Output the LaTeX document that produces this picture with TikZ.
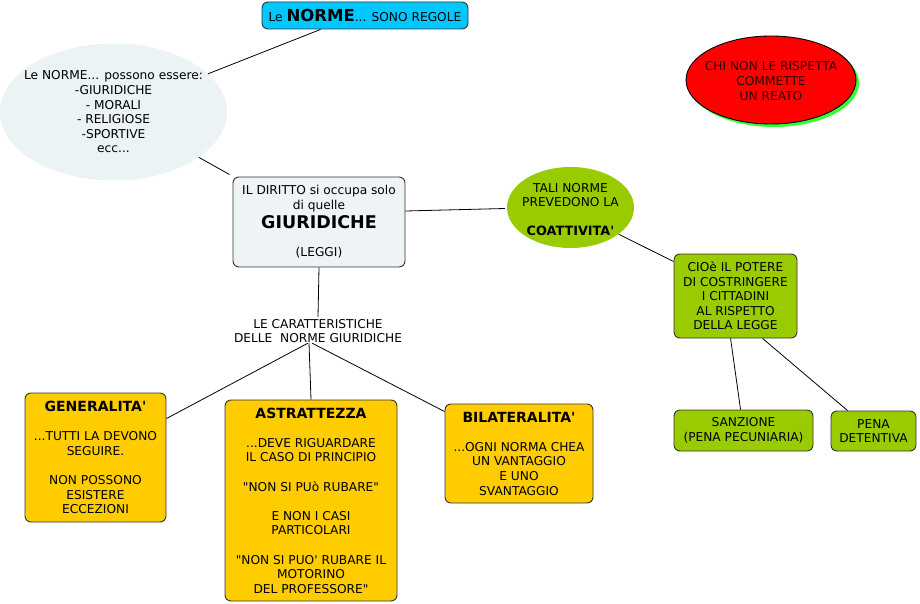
\documentclass[tikz,border=0pt]{standalone}
\usepackage{fontspec}
\newfontfamily\vfont{DejaVu Sans}
\usetikzlibrary{shapes.geometric,shadows}
\definecolor{cyanbox}{HTML}{00C8FF}
\definecolor{ellgrey}{HTML}{EBF3F5}
\definecolor{dirfill}{HTML}{EEF3F6}
\definecolor{lgreen}{HTML}{99CC00}
\definecolor{orng}{HTML}{FFCC00}
\definecolor{shgreen}{HTML}{33FF33}
\definecolor{dred}{HTML}{300000}
\tikzset{
  base/.style={font=\vfont\fontsize{12.2}{14.6}\selectfont, align=center, inner sep=0pt},
  rbox/.style={base, draw=black!80, line width=0.9pt, rounded corners=6pt},
  ellshape/.style={ellipse, inner sep=0pt},
  conn/.style={draw=black, line width=0.8pt},
}
\newcommand\ttl[1]{{\fontsize{14}{14.6}\selectfont\bfseries #1}}
\begin{document}
\begin{tikzpicture}[x=1pt,y=-1pt]
\useasboundingbox (0,0) rectangle (920,604);
% nodes
\node[rbox, fill=cyanbox, minimum width=206pt, minimum height=27pt] (top) at (365,15.5)
  {Le {\fontsize{16.5}{14}\selectfont\bfseries NORME}... SONO REGOLE};
\node[ellshape, fill=ellgrey, minimum width=227pt, minimum height=137pt] (ell) at (113.5,112) {};
\node[base] (ellt) at (ell.center)
  {Le NORME... possono essere:\\-GIURIDICHE\\- MORALI\\- RELIGIOSE\\-SPORTIVE\\ecc...};
\node[rbox, fill=dirfill, minimum width=172pt, minimum height=90pt] (dir) at (319,222)
  {IL DIRITTO si occupa solo\\di quelle\\[2pt]{\fontsize{17.5}{15}\selectfont\bfseries GIURIDICHE}\\[14pt](LEGGI)};
\node[base] (car) at (318,331) {LE CARATTERISTICHE\\DELLE\ \ NORME GIURIDICHE};
\node[ellshape, fill=lgreen, minimum width=127pt, minimum height=81pt] (tali) at (570.5,207.5) {};
\node[base] (talit) at (570.5,209.5)
  {TALI NORME\\PREVEDONO LA\\[14.6pt]{\fontsize{12.8}{14.6}\selectfont\bfseries COATTIVITA'}};
\node[rbox, fill=lgreen, minimum width=123pt, minimum height=84pt] (cio) at (735.5,296)
  {CIOè IL POTERE\\DI COSTRINGERE\\I CITTADINI\\AL RISPETTO\\DELLA LEGGE};
\node[rbox, fill=lgreen, minimum width=139pt, minimum height=41pt] (san) at (743.5,430.5)
  {SANZIONE\\(PENA PECUNIARIA)};
\node[rbox, fill=lgreen, minimum width=85pt, minimum height=40pt] (pena) at (873.5,431)
  {PENA\\DETENTIVA};
\node[ellshape, fill=red, draw=black, line width=0.9pt,
  drop shadow={shadow xshift=3pt, shadow yshift=-3pt, fill=shgreen, opacity=1},
  minimum width=170pt, minimum height=88pt] (red) at (771,80) {};
\node[base, text=dred] (redt) at (771,81)
  {CHI NON LE RISPETTA\\COMMETTE\\UN REATO};
\node[rbox, fill=orng, minimum width=141pt, minimum height=129pt] (gen) at (95.5,457.5)
  {\ttl{GENERALITA'}\\[14.6pt]...TUTTI LA DEVONO\\SEGUIRE.\\[14.6pt]NON POSSONO\\ESISTERE\\ECCEZIONI};
\node[rbox, fill=orng, minimum width=172pt, minimum height=201pt] (ast) at (311,500.5)
  {\ttl{ASTRATTEZZA}\\[14.6pt]...DEVE RIGUARDARE\\IL CASO DI PRINCIPIO\\[14.6pt]"NON SI PUò RUBARE"\\[14.6pt]E NON I CASI\\PARTICOLARI\\[14.6pt]"NON SI PUO' RUBARE IL\\MOTORINO\\DEL PROFESSORE"};
\node[rbox, fill=orng, minimum width=148pt, minimum height=99pt] (bil) at (519,453.5)
  {\ttl{BILATERALITA'}\\[14.6pt]...OGNI NORMA CHEA\\UN VANTAGGIO\\E UNO\\SVANTAGGIO};
% connectors
\draw[conn] (ell.22) -- ([xshift=59pt]top.south west);
\draw[conn] (ell.-28) -- ([xshift=-3pt,yshift=2pt]dir.north west);
\draw[conn] (dir.south) -- ([yshift=2pt]car.north);
\draw[conn] ([xshift=-10pt]car.south) -- ([yshift=-26pt]gen.north east);
\draw[conn] ([xshift=-9pt]car.south) -- (ast.north);
\draw[conn] ([xshift=-6pt]car.south) -- ([yshift=-8pt]bil.north west);
\draw[conn] ([yshift=11pt]dir.east) -- ([xshift=-2pt,yshift=-1pt]tali.west);
\draw[conn] (tali.-29) -- ([yshift=-8pt]cio.north west);
\draw[conn] ([xshift=57pt]cio.south west) -- ([xshift=67pt]san.north west);
\draw[conn] ([xshift=89pt]cio.south west) -- ([xshift=17pt]pena.north west);
\end{tikzpicture}
\end{document}
